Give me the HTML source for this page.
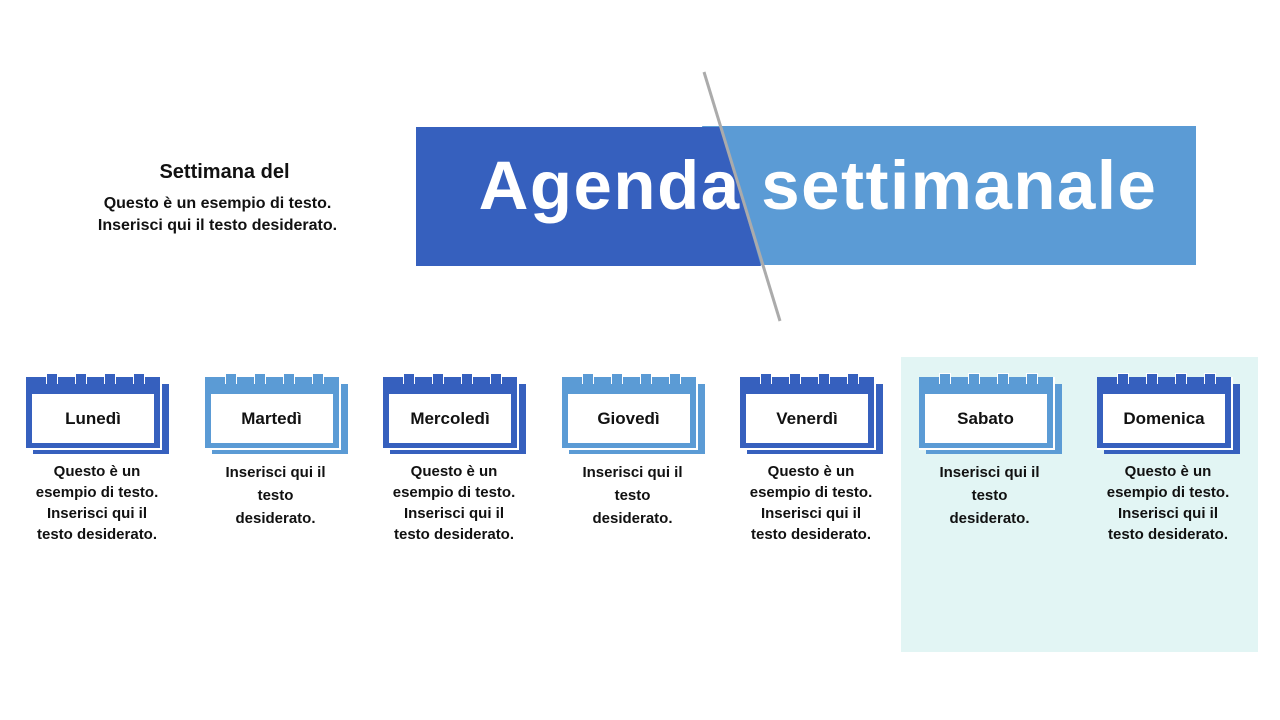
<!DOCTYPE html>
<html><head><meta charset="utf-8"><style>
body{margin:0;width:1280px;height:720px;background:#fff;position:relative;overflow:hidden;font-family:"Liberation Sans",sans-serif;font-weight:bold;color:#111}
.abs{position:absolute}
.cal{position:absolute;top:373px;width:145px;height:82px}
.desc{position:absolute;top:461px;width:170px;text-align:center;font-size:15px;line-height:21px}
.lab{position:absolute;left:6px;top:21px;width:122px;height:49px;background:#fff;display:flex;align-items:center;justify-content:center;font-size:17px}
</style></head><body>
<div class="abs" style="left:901px;top:357px;width:357px;height:295px;background:#E2F5F4"></div>
<div class="abs" style="left:697px;top:126px;width:499px;height:139px;background:#5B9BD5;clip-path:polygon(0 0,100% 0,100% 100%,46px 100%,5px 0)"></div>
<div class="abs" style="left:416px;top:127px;width:345px;height:139px;background:#3660BE;clip-path:polygon(0 0,305px 0,345px 139px,0 139px)"></div>
<svg class="abs" style="left:0;top:0" width="1280" height="720"><line x1="704" y1="72" x2="780" y2="321" stroke="#ABABAB" stroke-width="3"/></svg>
<div class="abs" style="left:428px;top:146px;width:780px;text-align:center;font-size:69px;color:#fff;letter-spacing:1.5px">Agenda&nbsp;settimanale</div>
<div class="abs" style="left:67px;top:161px;width:315px;text-align:center;font-size:20px">Settimana del</div>
<div class="abs" style="left:60px;top:193px;width:315px;text-align:center;font-size:16px;line-height:22px">Questo è un esempio di testo.<br>Inserisci qui il testo desiderato.</div>

<div id="cals"></div>
<script>
const days=[["Lunedì","#3660BE","Questo è un<br>esempio di testo.<br>Inserisci qui il<br>testo desiderato."],
["Martedì","#5B9BD5","Inserisci qui il<br>testo<br>desiderato."],
["Mercoledì","#3660BE","Questo è un<br>esempio di testo.<br>Inserisci qui il<br>testo desiderato."],
["Giovedì","#5B9BD5","Inserisci qui il<br>testo<br>desiderato."],
["Venerdì","#3660BE","Questo è un<br>esempio di testo.<br>Inserisci qui il<br>testo desiderato."],
["Sabato","#5B9BD5","Inserisci qui il<br>testo<br>desiderato."],
["Domenica","#3660BE","Questo è un<br>esempio di testo.<br>Inserisci qui il<br>testo desiderato."]];
let h="";
days.forEach((d,i)=>{
 const cx=97+i*178.5, l=cx-71;
 const c=d[1];
 h+=`<div class="cal" style="left:${l}px">
 <div class="abs" style="left:7px;top:11px;width:136px;height:70px;background:${c}"></div>
 <div class="abs" style="left:0;top:4px;width:134px;height:71px;background:${c};border-right:2px solid #fff;border-bottom:2px solid #fff"></div>
 ${[20,49,78,107].map(x=>`<div class="abs" style="left:${x}px;top:0;width:10px;height:10px;background:${c};border:1.5px solid #fff;border-bottom:none"></div>`).join("")}
 <div class="lab">${d[0]}</div></div>
 <div class="desc" style="left:${cx-85}px;${d[2].split('<br>').length==3?'top:461px;line-height:23px':''}">${d[2]}</div>`;
});
document.getElementById("cals").innerHTML=h;
</script>
</body></html>
